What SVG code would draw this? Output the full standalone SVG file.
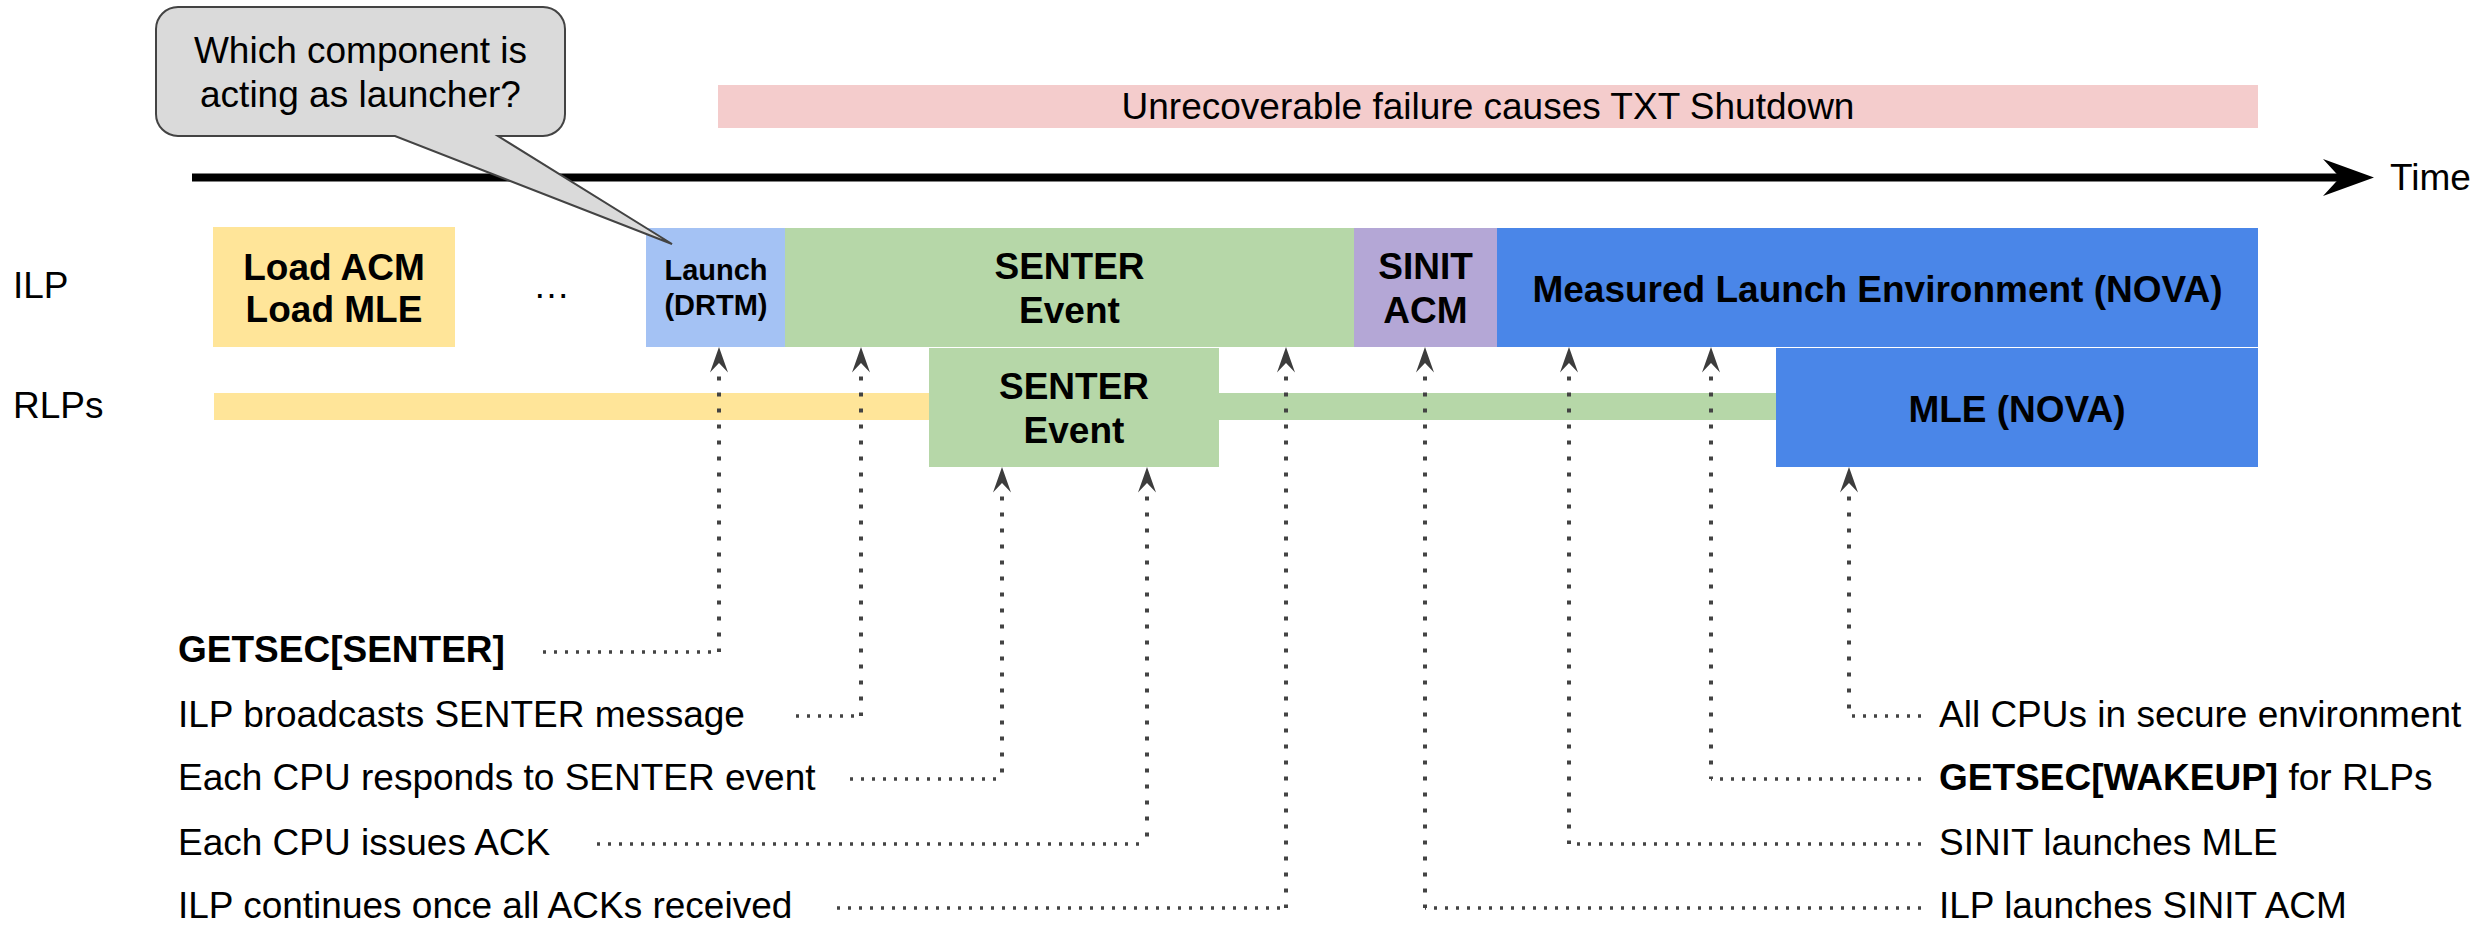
<svg xmlns="http://www.w3.org/2000/svg" width="2488" height="926" viewBox="0 0 2488 926">
<style>
text{font-family:"Liberation Sans",Arial,sans-serif;fill:#000}
.lbl{font-size:37px}
.b{font-size:37px;font-weight:bold}
.bs{font-size:29px;font-weight:bold}
.c{text-anchor:middle}
.h{fill:none;stroke:#434343;stroke-width:3.5;stroke-dasharray:3 8}
.v{fill:none;stroke:#434343;stroke-width:4;stroke-dasharray:4 12;stroke-dashoffset:-4;marker-start:url(#ah)}
</style>
<defs>
<marker id="ah" markerUnits="userSpaceOnUse" orient="auto-start-reverse" refX="0" refY="0" viewBox="-1 -10 28 20" markerWidth="28" markerHeight="20">
<path d="M25.5,0 L0,-9 L9.5,0 L0,9 Z" fill="#3c3c3c"/>
</marker>
</defs>
<rect width="2488" height="926" fill="#fff"/>

<g id="shutdown">
<rect x="718" y="85" width="1540" height="43" fill="#f4cccc"/>
<text class="lbl c" x="1488" y="119">Unrecoverable failure causes TXT Shutdown</text>
</g>

<g id="time-axis">
<line x1="192" y1="177.5" x2="2342" y2="177.5" stroke="#000" stroke-width="8"/>
<path d="M2374,177.5 L2323,159 L2340,177.5 L2323,196 Z" fill="#000"/>
<text class="lbl" x="2390" y="190">Time</text>
</g>

<g id="lane-labels">
<text class="lbl" x="13" y="298">ILP</text>
<text class="lbl" x="13" y="418">RLPs</text>
<text class="lbl" x="533" y="298">…</text>
</g>

<g id="load">
<rect x="213" y="227" width="242" height="120" fill="#ffe599"/>
<text class="b c" x="334" y="280">Load ACM</text>
<text class="b c" x="334" y="322">Load MLE</text>
</g>

<g id="launch">
<rect x="646" y="228" width="139" height="119" fill="#a4c2f4"/>
<text class="bs c" x="716" y="280">Launch</text>
<text class="bs c" x="716" y="315">(DRTM)</text>
</g>

<g id="senter-ilp">
<rect x="785" y="228" width="569" height="119" fill="#b6d7a8"/>
<text class="b c" x="1069.5" y="279">SENTER</text>
<text class="b c" x="1069.5" y="323">Event</text>
</g>

<g id="sinit">
<rect x="1354" y="228" width="143" height="119" fill="#b4a7d6"/>
<text class="b c" x="1425.5" y="279">SINIT</text>
<text class="b c" x="1425.5" y="323">ACM</text>
</g>

<g id="mle-ilp">
<rect x="1497" y="228" width="761" height="119" fill="#4a86e8"/>
<text class="b c" x="1877.5" y="302">Measured Launch Environment (NOVA)</text>
</g>

<g id="rlp-wait">
<rect x="214" y="393" width="715" height="27" fill="#ffe599"/>
</g>

<g id="senter-rlp">
<rect x="929" y="348" width="290" height="119" fill="#b6d7a8"/>
<text class="b c" x="1074" y="399">SENTER</text>
<text class="b c" x="1074" y="443">Event</text>
</g>

<g id="rlp-sleep">
<rect x="1219" y="393" width="557" height="27" fill="#b6d7a8"/>
</g>

<g id="mle-rlp">
<rect x="1776" y="348" width="482" height="119" fill="#4a86e8"/>
<text class="b c" x="2017" y="422">MLE (NOVA)</text>
</g>

<g id="connectors">
<path class="h" d="M543,652 H719"/><path class="v" d="M719,372.5 V652"/>
<path class="h" d="M796,716 H861"/><path class="v" d="M861,372.5 V716"/>
<path class="h" d="M850,779 H1002"/><path class="v" d="M1002,492.5 V779"/>
<path class="h" d="M597,844 H1147"/><path class="v" d="M1147,492.5 V844"/>
<path class="h" d="M837,908 H1286"/><path class="v" d="M1286,372.5 V908"/>
<path class="h" d="M1921,716 H1849"/><path class="v" d="M1849,492.5 V716"/>
<path class="h" d="M1921,779 H1711"/><path class="v" d="M1711,372.5 V779"/>
<path class="h" d="M1921,844 H1569"/><path class="v" d="M1569,372.5 V844"/>
<path class="h" d="M1921,908 H1425"/><path class="v" d="M1425,372.5 V908"/>
</g>

<g id="step-labels">
<text class="b" x="178" y="662">GETSEC[SENTER]</text>
<text class="lbl" x="178" y="727">ILP broadcasts SENTER message</text>
<text class="lbl" x="178" y="790">Each CPU responds to SENTER event</text>
<text class="lbl" x="178" y="855">Each CPU issues ACK</text>
<text class="lbl" x="178" y="918">ILP continues once all ACKs received</text>
<text class="lbl" x="1939" y="727">All CPUs in secure environment</text>
<text class="lbl" x="1939" y="790"><tspan font-weight="bold">GETSEC[WAKEUP]</tspan> for RLPs</text>
<text class="lbl" x="1939" y="855">SINIT launches MLE</text>
<text class="lbl" x="1939" y="918">ILP launches SINIT ACM</text>
</g>

<g id="callout">
<path d="M178,7 H543 A22,22 0 0 1 565,29 V114 A22,22 0 0 1 543,136 H498 L672,244 L395,136 H178 A22,22 0 0 1 156,114 V29 A22,22 0 0 1 178,7 Z" fill="#dadada" stroke="#434343" stroke-width="2"/>
<text class="lbl c" x="360.5" y="63">Which component is</text>
<text class="lbl c" x="360.5" y="107">acting as launcher?</text>
</g>
</svg>
